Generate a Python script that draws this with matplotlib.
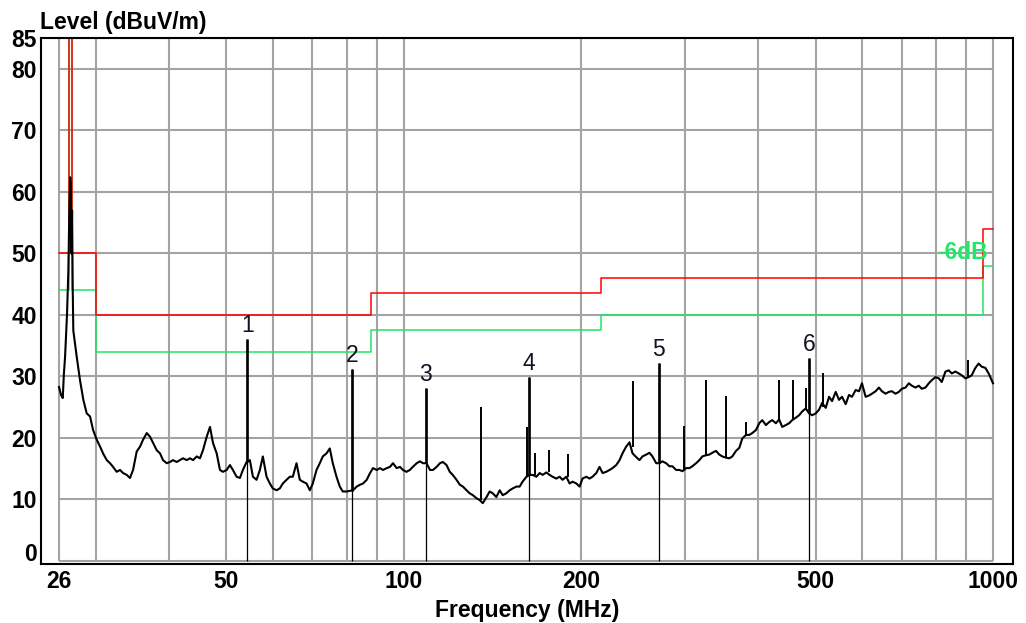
import numpy as np
import matplotlib
matplotlib.use("Agg")
import matplotlib.pyplot as plt
from matplotlib.ticker import NullLocator
from matplotlib.transforms import ScaledTranslation

plt.rcParams['font.family'] = ['Liberation Sans', 'DejaVu Sans']

# ── measured trace (MHz, dBuV/m) ──
trace_freq = [
    26.0, 26.2, 26.38, 26.5, 26.62, 26.82, 26.96, 27.07, 27.15, 27.22, 27.3, 27.36, 27.43, 27.49,
    27.86, 28.22, 28.59, 28.97, 29.35, 29.70, 30.13, 30.52, 30.88, 31.33, 31.73, 32.11, 32.57,
    33.00, 33.39, 33.87, 34.31, 34.72, 35.22, 35.68, 36.10, 36.63, 37.10, 37.54, 38.09, 38.58,
    39.03, 39.60, 40.12, 40.59, 41.18, 41.71, 42.21, 42.82, 43.38, 43.89, 44.53, 45.10, 45.63,
    46.30, 46.90, 47.45, 48.14, 48.76, 49.33, 50.05, 50.70, 51.29, 52.04, 52.72, 53.33, 54.11,
    54.81, 55.46, 56.26, 56.99, 57.66, 58.50, 59.26, 59.95, 60.83, 61.61, 62.34, 63.25, 64.07,
    64.82, 65.77, 66.62, 67.40, 68.39, 69.28, 70.09, 71.11, 72.03, 72.88, 73.94, 74.90, 75.78,
    76.89, 77.88, 78.80, 79.95, 82.02, 83.22, 84.30, 85.29, 86.53, 87.65, 88.68, 89.97, 91.14,
    92.21, 93.55, 94.76, 95.88, 97.27, 98.53, 99.69, 101.1, 102.4, 103.6, 105.2, 106.5, 107.8,
    109.3, 110.8, 112.1, 113.7, 115.2, 116.5, 118.2, 119.7, 121.1, 122.9, 124.5, 126.0, 127.8,
    129.4, 131.0, 132.9, 134.6, 136.2, 138.2, 139.9, 141.6, 143.6, 145.5, 147.2, 149.3, 151.3,
    153.1, 155.3, 157.3, 159.1, 161.5, 163.6, 165.5, 167.9, 170.1, 172.1, 174.6, 176.8, 178.9,
    181.5, 183.9, 186.0, 188.7, 191.2, 193.4, 196.3, 198.8, 201.1, 204.1, 206.7, 209.1, 212.2,
    214.9, 217.5, 220.6, 223.5, 226.1, 229.4, 232.4, 235.1, 238.5, 241.6, 244.5, 248.0, 251.2,
    254.2, 257.9, 261.2, 264.3, 268.2, 271.6, 274.8, 278.8, 282.4, 285.8, 289.9, 293.7, 297.1,
    301.4, 305.3, 308.9, 313.4, 317.5, 321.2, 325.9, 330.1, 334.0, 338.8, 343.2, 347.3, 352.3,
    356.9, 361.1, 366.3, 371.1, 375.4, 380.9, 385.9, 390.4, 396.1, 401.2, 405.9, 411.8, 417.1,
    422.1, 428.1, 433.7, 438.8, 445.1, 450.9, 456.2, 462.8, 468.8, 474.3, 481.2, 487.5, 493.2,
    500.3, 506.8, 512.8, 520.2, 527.0, 533.2, 540.9, 547.9, 554.4, 562.4, 569.7, 576.4, 584.8,
    592.4, 599.3, 608.0, 615.9, 623.1, 632.2, 640.4, 647.9, 657.3, 665.8, 673.7, 683.4, 692.3,
    700.4, 710.6, 719.8, 728.3, 738.9, 748.4, 757.2, 768.2, 778.2, 787.3, 798.7, 809.1, 818.6,
    830.5, 841.3, 851.2, 863.5, 874.7, 885.0, 897.9, 909.5, 920.2, 933.5, 945.6, 956.8, 970.7,
    983.2, 1000.0,
]
trace_level = [
    28.3, 27.0, 26.5, 30.5, 33.2, 40.0, 47.0, 57.0, 62.4, 61.5, 50.0, 57.0, 44.0, 37.5,
    33.2, 29.4, 26.2, 24.0, 23.5, 21.3, 19.7, 18.6, 17.5, 16.4, 15.9, 15.3, 14.5,
    14.8, 14.3, 14.0, 13.5, 14.8, 17.8, 18.6, 19.7, 20.8, 20.2, 19.2, 18.0, 17.5,
    16.4, 15.9, 16.1, 16.4, 16.1, 16.4, 16.7, 16.4, 16.7, 16.4, 17.0, 16.7, 18.0,
    20.2, 21.8, 19.2, 17.5, 14.8, 14.5, 14.8, 15.6, 14.8, 13.7, 13.5, 14.8, 16.1,
    16.4, 13.7, 13.2, 14.8, 17.0, 13.7, 12.6, 11.8, 11.5, 11.8, 12.6, 13.2, 13.7,
    13.7, 15.9, 13.2, 12.9, 12.6, 11.5, 12.6, 14.8, 15.9, 17.0, 17.5, 18.3, 15.9,
    13.7, 12.1, 11.3, 11.3, 11.5, 12.1, 12.4, 12.6, 13.2, 14.3, 15.1, 14.8, 15.1,
    14.8, 15.1, 15.3, 15.9, 15.1, 15.3, 14.8, 14.5, 14.8, 15.3, 15.9, 16.2, 15.9,
    15.9, 14.8, 14.8, 15.3, 15.9, 16.1, 15.6, 14.5, 14.0, 13.2, 12.4, 12.1, 11.5,
    11.0, 10.7, 10.2, 9.9, 9.4, 10.4, 11.3, 11.0, 10.4, 11.5, 10.7, 11.0, 11.5,
    11.8, 12.1, 12.1, 12.9, 13.7, 14.0, 14.0, 13.7, 14.3, 14.0, 14.4, 14.0, 13.7,
    13.4, 13.7, 13.2, 13.7, 12.6, 12.9, 12.6, 12.1, 13.4, 13.7, 13.4, 13.7, 14.3,
    15.3, 14.3, 14.5, 14.8, 15.1, 15.6, 16.4, 17.5, 18.6, 19.3, 17.5, 16.9, 16.4,
    17.0, 17.3, 17.6, 17.0, 15.9, 15.9, 16.2, 15.9, 15.4, 15.4, 14.8, 14.8, 14.6,
    15.1, 15.1, 15.4, 15.9, 16.4, 17.0, 17.2, 17.3, 17.6, 17.9, 17.3, 17.0, 16.8,
    16.7, 17.0, 17.9, 18.4, 19.9, 20.5, 20.5, 20.8, 21.3, 22.4, 22.9, 22.1, 22.6,
    22.9, 22.4, 23.0, 21.8, 22.1, 22.4, 22.9, 23.3, 23.7, 24.3, 24.8, 24.0, 23.7,
    24.0, 24.6, 25.7, 24.9, 26.7, 26.0, 27.5, 26.2, 26.7, 25.5, 27.0, 26.7, 27.8,
    27.6, 28.9, 26.7, 26.9, 27.2, 27.6, 28.2, 27.6, 27.2, 27.5, 27.6, 27.2, 27.5,
    28.0, 28.2, 28.9, 28.5, 28.2, 28.5, 28.0, 28.2, 28.9, 29.4, 29.9, 29.7, 29.1,
    30.8, 31.0, 30.5, 30.8, 30.5, 30.2, 29.7, 29.9, 30.2, 31.4, 32.1, 31.6, 31.4,
    30.5, 28.9,
]

# narrow spikes on the trace
spike_freq = [135.5, 162.1, 167.2, 176.4, 190.2, 244.5, 298.6, 325.9, 352.3, 380.9, 433.7, 458.0, 481.2, 515.4, 907.0]
spike_base = [9.9, 13.7, 14.0, 14.4, 13.7, 18.5, 14.6, 17.2, 16.8, 20.5, 23.0, 22.9, 24.8, 25.0, 29.9]
spike_top = [25.1, 21.8, 17.6, 18.0, 17.4, 29.2, 22.0, 29.4, 26.8, 22.6, 29.4, 29.4, 28.1, 30.5, 32.7]

# numbered markers
marker_freq = [54.25, 81.6, 108.9, 163.1, 270.9, 487.5]
marker_peak = [36.1, 31.2, 28.1, 29.9, 32.2, 33.0]
marker_base = [16.1, 11.3, 15.9, 14.0, 15.9, 24.0]
marker_labels = ["1", "2", "3", "4", "5", "6"]

# limit line and -6 dB margin
limit_freq = [26, 27.0, 27.0, 27.4, 27.4, 30, 30, 88, 88, 216, 216, 960, 960, 1000]
limit_level = [50, 50, 200, 200, 50, 50, 40, 40, 43.5, 43.5, 46, 46, 54, 54]
margin_level = [44, 44, 200, 200, 44, 44, 34, 34, 37.5, 37.5, 40, 40, 48, 48]

grid_x = [26, 30, 40, 50, 60, 70, 80, 90, 100, 200, 300, 400, 500, 600, 700, 800, 900, 1000]
grid_y = [0, 10, 20, 30, 40, 50, 60, 70, 80, 85]
xtick_vals = [26, 50, 100, 200, 500, 1000]
ytick_vals = [0, 10, 20, 30, 40, 50, 60, 70, 80, 85]

RED = "#ff0000"
GREEN = "#1ee864"
FS = 16.5

fig = plt.figure(figsize=(10.26, 6.23), dpi=100)
ax = fig.add_axes([41 / 1026, 1 - 564 / 623, 972 / 1026, 526 / 623])
ax.set_xscale("log")
ax.set_xlim(24.23, 1081.4)
ax.set_ylim(-0.49, 85.04)

# ── grid (only inside 26..1000 / 0..85) ──
ax.hlines(grid_y, 26, 1000, color="#a3a3a3", lw=1.5, zorder=1)
ax.vlines(grid_x, 0, 85, color="#a3a3a3", lw=1.5, zorder=1)

# ── limits ──
ax.plot(limit_freq, margin_level, color=GREEN, lw=1.1, zorder=2)
ax.plot(limit_freq, limit_level, color=RED, lw=1.1, zorder=2)

# ── trace ──
ax.plot(trace_freq, trace_level, color="black", lw=1.5, zorder=3)
ax.vlines(spike_freq, spike_base, spike_top, color="black", lw=1.4, zorder=3)

# ── markers ──
ax.vlines(marker_freq, 0, marker_peak, color="black", lw=0.9, zorder=4)
ax.vlines(marker_freq, marker_base, marker_peak, color="black", lw=1.9, zorder=4)
for f, p, lab in zip(marker_freq, marker_peak, marker_labels):
    ax.annotate(lab, (f, p), xytext=(0, 10), textcoords="offset points",
                ha="center", va="center", fontsize=FS, color="#111122", zorder=5)

ax.text(886, 50.2, "-6dB", color=GREEN, fontsize=FS, fontweight="bold",
        ha="center", va="center", zorder=5)

# ── axes styling ──
for s in ax.spines.values():
    s.set_linewidth(1.5)
    s.set_color("black")
ax.xaxis.set_minor_locator(NullLocator())
ax.yaxis.set_minor_locator(NullLocator())
ax.set_xticks(xtick_vals)
ax.set_xticklabels([str(v) for v in xtick_vals])
ax.set_yticks(ytick_vals)
ax.set_yticklabels([str(v) for v in ytick_vals])
ax.tick_params(axis="both", length=0, labelsize=FS)
ax.tick_params(axis="x", pad=4)
ax.tick_params(axis="y", pad=3)
for lab in ax.get_xticklabels() + ax.get_yticklabels():
    lab.set_fontweight("bold")
zero_lab = ax.get_yticklabels()[0]
zero_lab.set_transform(zero_lab.get_transform() + ScaledTranslation(0, 6.5 / 72, fig.dpi_scale_trans))

fig.text(40 / 1026, 1 - 23 / 623, "Level (dBuV/m)", fontsize=FS, fontweight="bold",
         ha="left", va="center")
fig.text(527 / 1026, 1 - 611 / 623, "Frequency (MHz)", fontsize=FS, fontweight="bold",
         ha="center", va="center")

fig.savefig("out.png", dpi=100)
